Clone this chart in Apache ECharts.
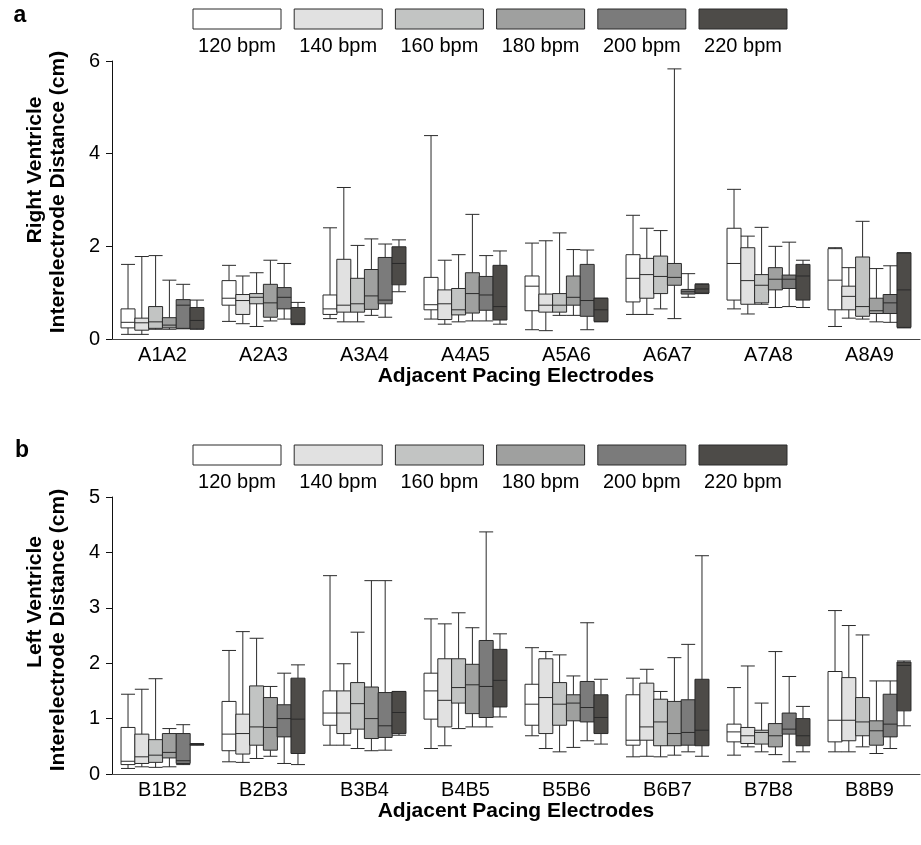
<!DOCTYPE html>
<html>
<head>
<meta charset="utf-8">
<title>Interelectrode distance by pacing rate</title>
<script src="https://cdn.jsdelivr.net/npm/echarts@6/dist/echarts.min.js"></script>
<style>
  html, body { margin: 0; padding: 0; background: #fff; }
  #chart { width: 921px; height: 845px; }
</style>
</head>
<body>
<div id="chart"></div>
<script>
// categories
const rvCategories = ['A1A2', 'A2A3', 'A3A4', 'A4A5', 'A5A6', 'A6A7', 'A7A8', 'A8A9']
const lvCategories = ['B1B2', 'B2B3', 'B3B4', 'B4B5', 'B5B6', 'B6B7', 'B7B8', 'B8B9']
const bpmLabels = ['120 bpm', '140 bpm', '160 bpm', '180 bpm', '200 bpm', '220 bpm']
const rvTicks = [0, 2, 4, 6]
const lvTicks = [0, 1, 2, 3, 4, 5]

// right ventricle, [min, Q1, median, Q3, max] per electrode pair
const rv120 = [[0.10, 0.24, 0.36, 0.65, 1.61], [0.38, 0.73, 0.88, 1.26, 1.59], [0.44, 0.53, 0.65, 0.95, 2.40], [0.43, 0.63, 0.74, 1.33, 4.39], [0.20, 0.61, 1.14, 1.36, 2.07], [0.53, 0.80, 1.31, 1.82, 2.67], [0.65, 0.84, 1.63, 2.39, 3.23], [0.27, 0.63, 1.27, 1.95, 1.97]]
const rv140 = [[0.10, 0.19, 0.35, 0.45, 1.78], [0.33, 0.53, 0.83, 0.96, 1.36], [0.37, 0.58, 0.73, 1.72, 3.27], [0.32, 0.42, 0.76, 1.06, 1.70], [0.18, 0.58, 0.73, 0.97, 2.12], [0.53, 0.88, 1.39, 1.74, 2.39], [0.54, 0.75, 1.26, 1.97, 2.22], [0.45, 0.63, 0.92, 1.14, 1.54]]
const rv160 = [[0.21, 0.23, 0.37, 0.70, 1.80], [0.27, 0.76, 0.90, 0.98, 1.43], [0.37, 0.58, 0.76, 1.31, 2.02], [0.37, 0.52, 0.63, 1.09, 1.82], [0.51, 0.58, 0.73, 0.98, 2.29], [0.65, 0.98, 1.35, 1.79, 2.34], [0.75, 0.78, 1.16, 1.39, 2.41], [0.43, 0.49, 0.70, 1.77, 2.54]]
const rv180 = [[0.21, 0.24, 0.30, 0.46, 1.27], [0.39, 0.47, 0.78, 1.18, 1.70], [0.51, 0.64, 0.93, 1.50, 2.16], [0.39, 0.56, 0.98, 1.43, 2.69], [0.51, 0.73, 0.90, 1.36, 1.93], [0.44, 1.16, 1.33, 1.63, 5.83], [0.68, 1.06, 1.29, 1.54, 2.00], [0.37, 0.55, 0.61, 0.88, 1.52]]
const rv200 = [[0.22, 0.23, 0.73, 0.85, 1.18], [0.43, 0.65, 0.90, 1.11, 1.63], [0.47, 0.76, 0.84, 1.76, 2.05], [0.39, 0.62, 0.95, 1.35, 1.80], [0.20, 0.49, 0.83, 1.61, 1.92], [0.90, 0.97, 1.02, 1.07, 1.41], [0.70, 1.09, 1.29, 1.38, 2.09], [0.36, 0.55, 0.78, 0.96, 1.58]]
const rv220 = [[0.21, 0.22, 0.40, 0.68, 0.84], [0.31, 0.32, 0.33, 0.68, 0.79], [1.02, 1.17, 1.63, 1.99, 2.14], [0.32, 0.41, 0.70, 1.59, 1.90], [0.37, 0.38, 0.63, 0.88, 0.88], [0.98, 0.99, 1.08, 1.18, 1.19], [0.68, 0.84, 1.36, 1.61, 1.70], [0.24, 0.25, 1.06, 1.86, 1.86]]

// left ventricle
const lv120 = [[0.10, 0.17, 0.23, 0.84, 1.44], [0.22, 0.42, 0.72, 1.31, 2.23], [0.52, 0.88, 1.10, 1.50, 3.58], [0.46, 0.99, 1.50, 1.82, 2.80], [0.69, 0.88, 1.26, 1.62, 2.28], [0.31, 0.52, 0.61, 1.43, 1.73], [0.34, 0.58, 0.76, 0.90, 1.56], [0.40, 0.58, 0.97, 1.85, 2.95]]
const lv140 = [[0.13, 0.19, 0.31, 0.72, 1.53], [0.21, 0.36, 0.73, 1.08, 2.57], [0.52, 0.73, 1.10, 1.50, 1.99], [0.51, 0.85, 1.33, 2.08, 2.71], [0.46, 0.73, 1.38, 2.08, 2.21], [0.32, 0.61, 0.85, 1.64, 1.89], [0.49, 0.55, 0.69, 0.84, 1.95], [0.40, 0.60, 0.97, 1.74, 2.68]]
const lv160 = [[0.12, 0.21, 0.34, 0.62, 1.72], [0.28, 0.52, 0.85, 1.59, 2.45], [0.46, 0.81, 1.27, 1.65, 2.56], [0.82, 1.28, 1.56, 2.08, 2.91], [0.40, 0.88, 1.26, 1.65, 2.15], [0.31, 0.51, 0.94, 1.35, 1.49], [0.40, 0.54, 0.75, 0.79, 1.28], [0.49, 0.69, 0.94, 1.38, 2.51]]
const lv180 = [[0.13, 0.29, 0.39, 0.73, 0.82], [0.32, 0.43, 0.84, 1.38, 1.58], [0.42, 0.64, 1.00, 1.57, 3.49], [0.85, 1.09, 1.61, 1.98, 2.64], [0.48, 0.96, 1.28, 1.43, 1.77], [0.34, 0.51, 0.73, 1.31, 2.10], [0.35, 0.49, 0.69, 0.91, 2.21], [0.37, 0.52, 0.78, 0.96, 1.68]]
const lv200 = [[0.17, 0.19, 0.24, 0.73, 0.89], [0.19, 0.67, 1.00, 1.25, 1.82], [0.43, 0.66, 0.87, 1.47, 3.49], [0.85, 1.02, 1.58, 2.41, 4.37], [0.60, 0.94, 1.20, 1.67, 2.73], [0.40, 0.52, 0.75, 1.34, 2.34], [0.22, 0.72, 0.81, 1.10, 1.76], [0.46, 0.67, 0.90, 1.44, 1.68]]
const lv220 = [[0.52, 0.53, 0.53, 0.54, 0.55], [0.17, 0.37, 0.99, 1.73, 1.97], [0.70, 0.73, 1.11, 1.49, 1.49], [1.03, 1.21, 1.69, 2.25, 2.53], [0.54, 0.73, 1.02, 1.43, 1.71], [0.32, 0.51, 0.79, 1.71, 3.94], [0.40, 0.51, 0.69, 1.00, 1.22], [0.87, 1.14, 1.96, 2.02, 2.04]]

const rvSeries = [rv120, rv140, rv160, rv180, rv200, rv220]
const lvSeries = [lv120, lv140, lv160, lv180, lv200, lv220]

// styles
const bpmColors = ['#ffffff', '#e1e1e1', '#c2c4c3', '#9fa09f', '#7b7b7b', '#4d4b48']
const FONT = "'Liberation Sans', Arial, sans-serif"
const INK = '#000'
const LINE = '#2a2a2a'

const chart = echarts.init(document.getElementById('chart'), null, { renderer: 'canvas' })

const xAxisFor = (gridIndex, categories) => ({
  type: 'category',
  gridIndex,
  data: categories,
  boundaryGap: true,
  name: 'Adjacent Pacing Electrodes',
  nameLocation: 'middle',
  nameGap: 27,
  nameTextStyle: { fontFamily: FONT, fontSize: 21, fontWeight: 'bold', color: INK },
  axisLine: { lineStyle: { color: '#444', width: 1 } },
  axisTick: { alignWithLabel: true, length: 5, lineStyle: { color: '#444' } },
  axisLabel: { fontFamily: FONT, fontSize: 20, color: INK, margin: 6 },
  splitLine: { show: false }
})

const yAxisFor = (gridIndex, ticks) => ({
  type: 'value',
  gridIndex,
  min: ticks[0],
  max: ticks[ticks.length - 1],
  interval: ticks[1] - ticks[0],
  axisLine: { show: true, lineStyle: { color: '#111', width: 1 } },
  axisTick: { show: true, length: 6, lineStyle: { color: '#111' } },
  axisLabel: { fontFamily: FONT, fontSize: 20, color: INK, margin: 12 },
  splitLine: { show: false }
})

const boxSeries = (list, xIdx, yIdx) => list.map((data, i) => ({
  name: bpmLabels[i],
  type: 'boxplot',
  xAxisIndex: xIdx,
  yAxisIndex: yIdx,
  data,
  boxWidth: [14, 14],
  itemStyle: { color: bpmColors[i], borderColor: LINE, borderWidth: 1 },
  emphasis: { disabled: true },
  silent: true
}))

// legend rows drawn above each panel (box with label underneath)
const legendRow = (top) => bpmLabels.flatMap((label, i) => {
  const x = 193 + i * 101.2
  return [
    { type: 'rect', shape: { x, y: top, width: 88, height: 20 }, style: { fill: bpmColors[i], stroke: LINE, lineWidth: 1 } },
    { type: 'text', x: x + 44, y: top + 37, style: { text: label, font: '20px ' + FONT, fill: INK, align: 'center', verticalAlign: 'middle' } }
  ]
})

const sideText = (text, x, y, size) => ({
  type: 'text', x, y, rotation: Math.PI / 2,
  style: { text, font: 'bold ' + size + 'px ' + FONT, fill: INK, align: 'center', verticalAlign: 'middle' }
})

const option = {
  animation: false,
  backgroundColor: '#fff',
  grid: [
    { left: 112, right: 1, top: 61, height: 278, outerBoundsMode: 'none' },
    { left: 112, right: 1, top: 497, height: 277, outerBoundsMode: 'none' }
  ],
  xAxis: [xAxisFor(0, rvCategories), xAxisFor(1, lvCategories)],
  yAxis: [yAxisFor(0, rvTicks), yAxisFor(1, lvTicks)],
  series: [...boxSeries(rvSeries, 0, 0), ...boxSeries(lvSeries, 1, 1)],
  graphic: [
    ...legendRow(9),
    ...legendRow(445),
    { type: 'text', x: 20, y: 16, style: { text: 'a', font: 'bold 23px ' + FONT, fill: INK, align: 'center', verticalAlign: 'middle' } },
    { type: 'text', x: 22, y: 451, style: { text: 'b', font: 'bold 23px ' + FONT, fill: INK, align: 'center', verticalAlign: 'middle' } },
    sideText('Right Ventricle', 35, 170, 21),
    sideText('Interelectrode Distance (cm)', 58, 192, 21),
    sideText('Left Ventricle', 35, 602, 21),
    sideText('Interelectrode Distance (cm)', 58, 630, 21)
  ]
}

chart.setOption(option)
</script>
</body>
</html>
